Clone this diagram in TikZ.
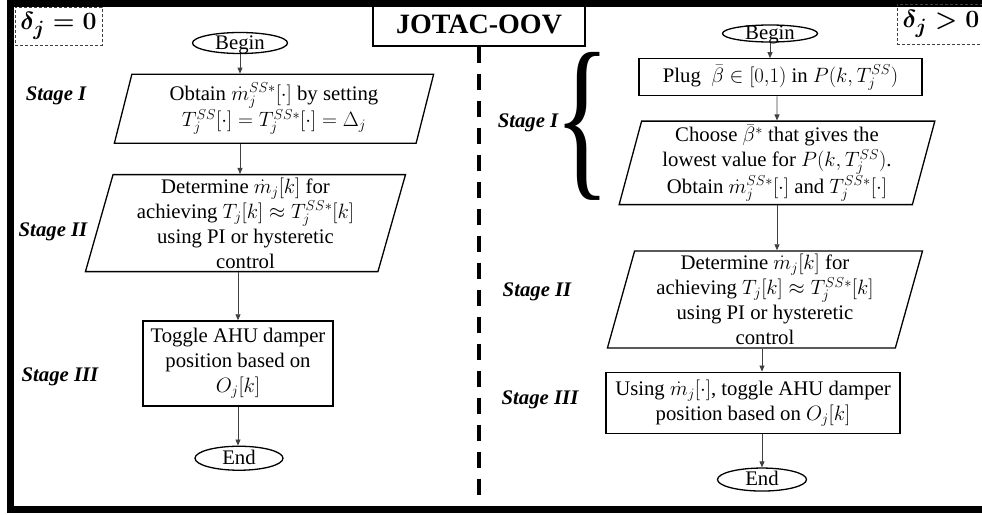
\documentclass[tikz,border=0pt]{standalone}
\usepackage{fontspec}
\setmainfont{Liberation Serif}
\usepackage{graphicx}
\usetikzlibrary{shapes.geometric, arrows.meta, positioning}
\tikzset{
    box/.style={
        rectangle, draw=black, line width=1.3pt,
        inner sep=2pt, align=center, font=\fontsize{20.74}{25}\selectfont
    },
    para/.style={
        trapezium, trapezium left angle=76, trapezium right angle=104,
        trapezium stretches, draw=black, line width=1.3pt,
        inner sep=0pt, align=center, font=\fontsize{20.74}{25}\selectfont
    },
    term/.style={
        ellipse, draw=black, line width=1.3pt, inner sep=0pt,
        text height=12pt, text depth=0pt, minimum width=95pt,
        font=\fontsize{20.74}{25}\selectfont
    },
    casebox/.style={
        draw=black!75, line width=0.8pt, dash pattern=on 3pt off 2pt,
        font=\fontsize{24.88}{28}\selectfont\boldmath
    },
    stage/.style={font=\fontsize{20.74}{25}\selectfont\bfseries\itshape},
    arrow/.style={-{Triangle[length=6pt, width=5pt]}, line width=0.8pt, black!75},
    frame/.style={line width=7pt},
    divider/.style={line width=4pt, dash pattern=on 16pt off 11pt}
}

\begin{document}
\begin{tikzpicture}[x=1pt, y=-1pt]
\useasboundingbox (0,0) rectangle (982,514);

% ── Frame and header ─────────────────────────────────────────────────────────
\coordinate (tl) at (10,3);
\coordinate (tr) at (990,3);
\coordinate (bl) at (10,509);
\coordinate (br) at (990,509);
\draw[frame] (tr) -- (tl) -- (bl) -- (br);

\node[box, minimum width=212pt, minimum height=43pt,
      font=\fontsize{28}{30}\selectfont\bfseries] (title) at (479,24.5) {JOTAC-OOV};
\node[casebox, minimum width=87pt, minimum height=38pt] (caseL) at (58.5,26) {$\delta_j = 0$};
\node[casebox, minimum width=88pt, minimum height=40pt] (caseR) at (941,24) {$\delta_j > 0$};

\draw[divider] (title.south) -- (title.south |- bl);

% ── Left: delta_j = 0 ────────────────────────────────────────────────────────
\node[term, minimum height=21pt] (beginL) at (240,43) {Begin};
\node[para, minimum width=320pt, minimum height=69pt,
      below=19.5pt of beginL, xshift=34pt] (s1L)
    {Obtain $\dot{m}_j^{SS*}[\cdot]$ by setting\\
     $T_j^{SS}[\cdot] = T_j^{SS*}[\cdot] = \Delta_j$};
\node[para, minimum width=321pt, minimum height=97pt,
      below=30pt of s1L, xshift=-28.5pt] (s2L)
    {Determine $\dot{m}_j[k]$ for\\
     achieving $T_j[k] \approx T_j^{SS*}[k]$\\
     using PI or hysteretic\\control};
\node[box, minimum width=190pt, minimum height=85pt,
      below=48pt of s2L, xshift=-7.5pt] (s3L)
    {Toggle AHU damper\\position based on\\$O_j[k]$};
\node[term, minimum width=88pt, minimum height=24pt,
      below=39pt of s3L, xshift=1pt] (endL) {End};

\node[stage] (lblL1) at (56,96) {Stage I};
\node[stage] (lblL2) at (53,232) {Stage II};
\node[stage] (lblL3) at (60,377) {Stage III};

% ── Right: delta_j > 0 ───────────────────────────────────────────────────────
\node[term, minimum height=17pt] (beginR) at (770,33.5) {Begin};
\node[box, minimum width=283pt, minimum height=37pt,
      below=15.5pt of beginR, xshift=10.5pt] (plug)
    {Plug\ \ $\bar{\beta} \in [0{,}1)$ in $P(k, T_j^{SS})$};
\node[para, minimum width=316pt, minimum height=83.5pt,
      below=24pt of plug, xshift=-3.5pt] (choose)
    {Choose $\bar{\beta}^*$ that gives the\\
     lowest value for $P(k, T_j^{SS})$.\\
     Obtain $\dot{m}_j^{SS*}[\cdot]$ and $T_j^{SS*}[\cdot]$};
\node[para, minimum width=316pt, minimum height=97pt,
      below=45pt of choose, xshift=-12pt] (s2R)
    {Determine $\dot{m}_j[k]$ for\\
     achieving $T_j[k] \approx T_j^{SS*}[k]$\\
     using PI or hysteretic\\control};
\node[box, minimum width=294pt, minimum height=61pt,
      below=23pt of s2R, xshift=-12pt] (s3R)
    {Using $\dot{m}_j[\cdot]$, toggle AHU damper\\position based on $O_j[k]$};
\node[term, minimum width=89pt, minimum height=23pt,
      below=33.5pt of s3R, xshift=9pt] (endR) {End};

\node[inner sep=0pt, font=\fontsize{20.74}{25}\selectfont] (brace) at (582,126)
    {\resizebox*{56pt}{148pt}{\{}};
\node[stage] (lblR1) at (528,123) {Stage I};
\node[stage] (lblR2) at (537,292) {Stage II};
\node[stage] (lblR3) at (540,400) {Stage III};

% ── Arrows: left ─────────────────────────────────────────────────────────────
\draw[arrow] (beginL) -- (beginL |- s1L.north);
\draw[arrow] (beginL |- s1L.south) -- (beginL |- s2L.north);
\draw[arrow] (s3L |- s2L.south) -- (s3L.north);
\draw[arrow] (s3L.south) -- (s3L.south |- endL.north);

% ── Arrows: right ────────────────────────────────────────────────────────────
\draw[arrow] (beginR) -- (beginR |- plug.north);
\draw[arrow] (choose |- plug.south) -- (choose.north);
\draw[arrow] (choose.south) -- (choose.south |- s2R.north);
\draw[arrow] (endR |- s2R.south) -- (endR |- s3R.north);
\draw[arrow] (endR |- s3R.south) -- (endR.north);

\end{tikzpicture}
\end{document}
